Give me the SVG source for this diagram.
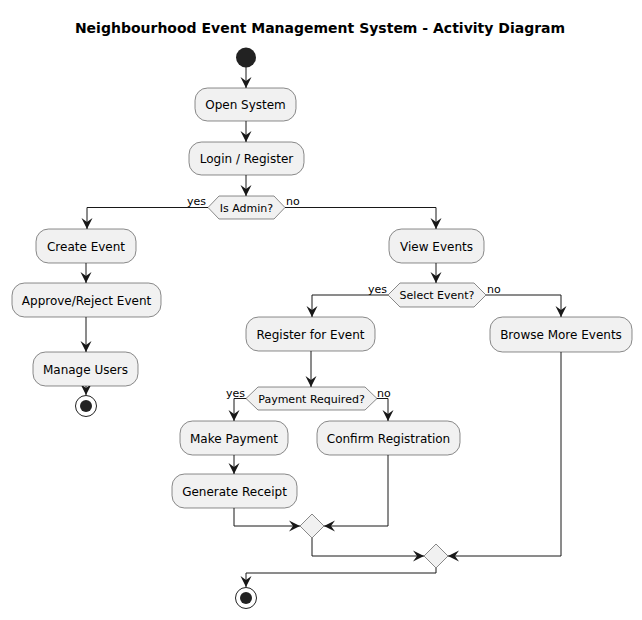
<svg xmlns="http://www.w3.org/2000/svg" width="642" height="620" viewBox="0 0 642 620">
<style>
.act{fill:#F1F1F1;stroke:#181818;stroke-width:0.5}
.t{font-family:"DejaVu Sans",sans-serif;font-size:12px;fill:#000;text-anchor:middle}
.s{font-family:"DejaVu Sans",sans-serif;font-size:11px;fill:#000}
.e{fill:none;stroke:#181818;stroke-width:1;marker-end:url(#ah)}
</style>
<defs>
<marker id="ah" markerUnits="userSpaceOnUse" viewBox="-12 -7 13 14" refX="0" refY="0" markerWidth="13" markerHeight="14" orient="auto">
<path d="M0,0 L-11,-5.5 L-7,0 L-11,5.5 Z" fill="#181818"/>
</marker>
</defs>
<rect width="642" height="620" fill="#FFFFFF"/>
<text x="320" y="33" font-family="DejaVu Sans, sans-serif" font-size="14" font-weight="bold" text-anchor="middle">Neighbourhood Event Management System - Activity Diagram</text>

<g id="connectors">
<path class="e" d="M246,67 V88"/>
<path class="e" d="M246,121 V142"/>
<path class="e" d="M246,175 V196"/>
<path class="e" d="M208,207.5 H87 V229"/>
<path class="e" d="M285,207.5 H436 V229"/>
<path class="e" d="M86,263 V283"/>
<path class="e" d="M86,317 V352"/>
<path class="e" d="M86,386 V395"/>
<path class="e" d="M436,263 V283"/>
<path class="e" d="M388,295 H312 V317"/>
<path class="e" d="M486,295 H561 V317"/>
<path class="e" d="M311,351 V387"/>
<path class="e" d="M246,398.5 H234 V421"/>
<path class="e" d="M377,398.5 H388 V421"/>
<path class="e" d="M234,455 V474"/>
<path class="e" d="M234,508 V526 H300"/>
<path class="e" d="M388,455 V526 H324"/>
<path class="e" d="M312,538 V556 H424"/>
<path class="e" d="M561,352 V556 H448"/>
<path class="e" d="M436,568 V573 H246 V587"/>
<text class="s" x="206" y="205" text-anchor="end">yes</text>
<text class="s" x="286" y="205">no</text>
<text class="s" x="387" y="293" text-anchor="end">yes</text>
<text class="s" x="487" y="293">no</text>
<text class="s" x="245" y="397" text-anchor="end">yes</text>
<text class="s" x="377" y="397">no</text>
</g>

<g id="start"><circle cx="246" cy="57.5" r="10" fill="#222222"/></g>
<g id="open-system"><rect class="act" x="195" y="88" width="101" height="33" rx="12.5"/><text class="t" x="245.5" y="109">Open System</text></g>
<g id="login"><rect class="act" x="189" y="142" width="115" height="33" rx="12.5"/><text class="t" x="246.5" y="163">Login / Register</text></g>
<g id="is-admin"><polygon class="act" points="208,207.5 219,196 274,196 285,207.5 274,219 219,219"/><text class="s" x="246.5" y="211.5" text-anchor="middle">Is Admin?</text></g>
<g id="create-event"><rect class="act" x="36" y="229" width="100" height="34" rx="12.5"/><text class="t" x="86" y="250.5">Create Event</text></g>
<g id="approve"><rect class="act" x="12" y="283" width="149" height="34" rx="12.5"/><text class="t" x="86.5" y="304.5">Approve/Reject Event</text></g>
<g id="manage-users"><rect class="act" x="33" y="352" width="105" height="34" rx="12.5"/><text class="t" x="85.5" y="373.5">Manage Users</text></g>
<g id="stop-admin"><circle cx="86" cy="406" r="10.5" fill="#FFFFFF" stroke="#222222" stroke-width="1"/><circle cx="86" cy="406" r="6" fill="#222222"/></g>
<g id="view-events"><rect class="act" x="389" y="229" width="95" height="34" rx="12.5"/><text class="t" x="436.5" y="250.5">View Events</text></g>
<g id="select-event"><polygon class="act" points="388,295 400,283 474,283 486,295 474,307 400,307"/><text class="s" x="437" y="299" text-anchor="middle">Select Event?</text></g>
<g id="register"><rect class="act" x="246" y="317" width="129" height="34" rx="12.5"/><text class="t" x="310.5" y="338.5">Register for Event</text></g>
<g id="browse"><rect class="act" x="490" y="317" width="142" height="35" rx="12.5"/><text class="t" x="561" y="339">Browse More Events</text></g>
<g id="payment-required"><polygon class="act" points="246,398.5 258,387 365,387 377,398.5 365,410 258,410"/><text class="s" x="311.5" y="402.5" text-anchor="middle">Payment Required?</text></g>
<g id="make-payment"><rect class="act" x="180" y="421" width="108" height="34" rx="12.5"/><text class="t" x="234" y="442.5">Make Payment</text></g>
<g id="confirm"><rect class="act" x="317" y="421" width="143" height="34" rx="12.5"/><text class="t" x="388.5" y="442.5">Confirm Registration</text></g>
<g id="receipt"><rect class="act" x="172" y="474" width="125" height="34" rx="12.5"/><text class="t" x="234.5" y="495.5">Generate Receipt</text></g>
<g id="merge-payment"><polygon class="act" points="312,514 324,526 312,538 300,526"/></g>
<g id="merge-select"><polygon class="act" points="436,544 448,556 436,568 424,556"/></g>
<g id="stop"><circle cx="246" cy="598" r="10.5" fill="#FFFFFF" stroke="#222222" stroke-width="1"/><circle cx="246" cy="598" r="6" fill="#222222"/></g>
</svg>
